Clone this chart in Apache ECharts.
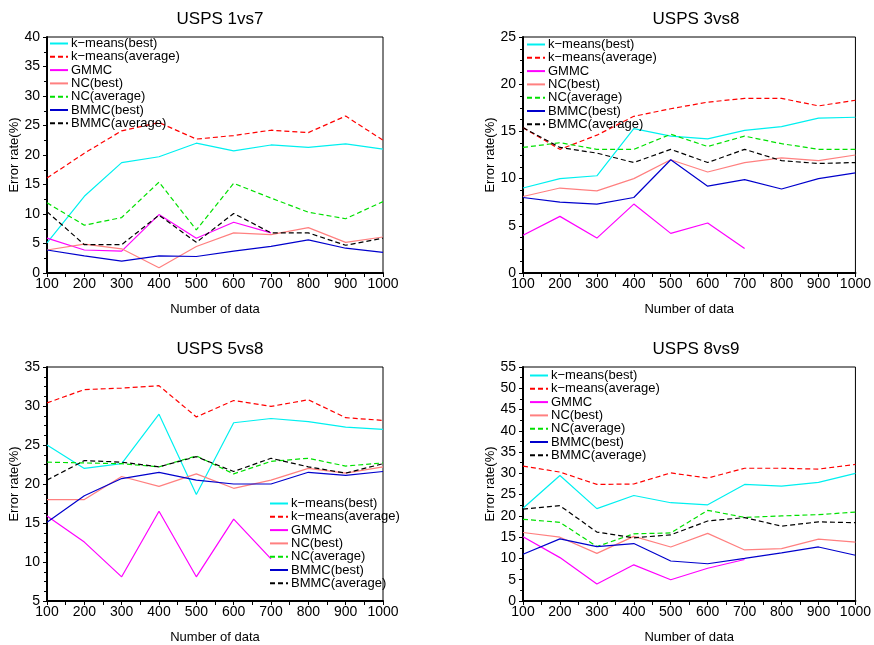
<!DOCTYPE html>
<html>
<head>
<meta charset="utf-8">
<script src="https://cdn.jsdelivr.net/npm/echarts@6/dist/echarts.min.js"></script>
<style>
  html, body { margin: 0; padding: 0; background: #fff; }
  #chart { width: 874px; height: 645px; }
</style>
</head>
<body>
<div id="chart"></div>
<script>
// Number of data points on the x axis
const dataSizes = [100, 200, 300, 400, 500, 600, 700, 800, 900, 1000];

// Panel titles
const panelTitles = ['USPS 1vs7', 'USPS 3vs8', 'USPS 5vs8', 'USPS 8vs9'];

// Method names (legend labels)
const methodNames = ['k\u2212means(best)', 'k\u2212means(average)', 'GMMC', 'NC(best)', 'NC(average)', 'BMMC(best)', 'BMMC(average)'];

// Error rates (%) — USPS 1vs7
const kmeansBest1vs7 = [5.1, 13.0, 18.7, 19.7, 22.0, 20.7, 21.7, 21.3, 21.9, 21.0];
const kmeansAvg1vs7  = [16.1, 20.3, 24.1, 25.5, 22.7, 23.3, 24.2, 23.8, 26.6, 22.5];
const gmmc1vs7       = [5.9, 3.9, 3.7, 9.9, 5.9, 8.6, 6.8];
const ncBest1vs7     = [3.9, 4.9, 4.1, 0.9, 4.5, 6.8, 6.5, 7.7, 5.2, 6.1];
const ncAvg1vs7      = [11.9, 8.1, 9.4, 15.4, 7.3, 15.2, 12.7, 10.3, 9.2, 12.1];
const bmmcBest1vs7   = [3.9, 2.9, 2.0, 2.9, 2.8, 3.7, 4.5, 5.6, 4.2, 3.5];
const bmmcAvg1vs7    = [10.4, 4.8, 4.8, 9.8, 5.2, 10.1, 6.8, 6.8, 4.7, 5.9];

// Error rates (%) — USPS 3vs8
const kmeansBest3vs8 = [9.0, 10.0, 10.3, 15.3, 14.5, 14.2, 15.1, 15.5, 16.4, 16.5];
const kmeansAvg3vs8  = [15.4, 13.1, 14.6, 16.6, 17.4, 18.1, 18.5, 18.5, 17.7, 18.3];
const gmmc3vs8       = [4.0, 6.0, 3.7, 7.3, 4.2, 5.3, 2.6];
const ncBest3vs8     = [8.1, 9.0, 8.7, 10.0, 12.0, 10.7, 11.7, 12.2, 11.9, 12.5];
const ncAvg3vs8      = [13.3, 13.8, 13.1, 13.1, 14.7, 13.4, 14.5, 13.7, 13.1, 13.1];
const bmmcBest3vs8   = [8.0, 7.5, 7.3, 8.0, 12.0, 9.2, 9.9, 8.9, 10.0, 10.6];
const bmmcAvg3vs8    = [15.4, 13.3, 12.7, 11.7, 13.1, 11.7, 13.1, 11.9, 11.6, 11.7];

// Error rates (%) — USPS 5vs8
const kmeansBest5vs8 = [25.0, 22.0, 22.6, 28.95, 18.65, 27.85, 28.4, 28.0, 27.3, 27.0];
const kmeansAvg5vs8  = [30.4, 32.1, 32.3, 32.6, 28.6, 30.7, 29.95, 30.8, 28.5, 28.15];
const gmmc5vs8       = [15.9, 12.55, 8.1, 16.5, 8.1, 15.5, 10.4];
const ncBest5vs8     = [18.0, 18.0, 20.96, 19.7, 21.3, 19.45, 20.5, 22.0, 21.4, 22.2];
const ncAvg5vs8      = [22.8, 22.7, 22.6, 22.2, 23.6, 21.3, 22.9, 23.3, 22.3, 22.7];
const bmmcBest5vs8   = [15.1, 18.5, 20.7, 21.5, 20.5, 20.0, 20.0, 21.5, 21.1, 21.6];
const bmmcAvg5vs8    = [20.5, 23.0, 22.8, 22.2, 23.5, 21.6, 23.3, 22.2, 21.4, 22.6];

// Error rates (%) — USPS 8vs9
const kmeansBest8vs9 = [21.8, 29.5, 21.7, 24.8, 23.1, 22.6, 27.4, 27.0, 27.9, 30.0];
const kmeansAvg8vs9  = [31.7, 30.3, 27.4, 27.5, 30.1, 28.9, 31.2, 31.2, 31.0, 32.1];
const gmmc8vs9       = [15.1, 10.2, 4.0, 8.5, 5.0, 7.7, 9.75];
const ncBest8vs9     = [16.1, 15.0, 11.2, 15.2, 12.7, 15.9, 12.0, 12.3, 14.55, 13.85];
const ncAvg8vs9      = [19.2, 18.5, 12.8, 15.8, 16.0, 21.3, 19.65, 20.0, 20.3, 20.9];
const bmmcBest8vs9   = [11.0, 14.6, 12.8, 13.5, 9.4, 8.75, 10.0, 11.3, 12.7, 10.75];
const bmmcAvg8vs9    = [21.6, 22.4, 16.2, 14.85, 15.55, 18.8, 19.6, 17.6, 18.6, 18.4];

// Y-axis ranges per panel
const yMins = [0, 0, 5, 0];
const yMaxs = [40, 25, 35, 55];

const panelData = [
  [kmeansBest1vs7, kmeansAvg1vs7, gmmc1vs7, ncBest1vs7, ncAvg1vs7, bmmcBest1vs7, bmmcAvg1vs7],
  [kmeansBest3vs8, kmeansAvg3vs8, gmmc3vs8, ncBest3vs8, ncAvg3vs8, bmmcBest3vs8, bmmcAvg3vs8],
  [kmeansBest5vs8, kmeansAvg5vs8, gmmc5vs8, ncBest5vs8, ncAvg5vs8, bmmcBest5vs8, bmmcAvg5vs8],
  [kmeansBest8vs9, kmeansAvg8vs9, gmmc8vs9, ncBest8vs9, ncAvg8vs9, bmmcBest8vs9, bmmcAvg8vs9]
];

// Line styles per method
const methodColors = ['#00f0f0', '#ff0000', '#ff00ff', '#ff8080', '#00e000', '#0000cc', '#000000'];
const methodDashed = [false, true, false, false, true, false, true];

const FONT = '"Liberation Sans", Arial, Helvetica, sans-serif';

// Panel geometry (pixels)
const grids = [
  { left: 47,  top: 37,  width: 336, height: 236 },
  { left: 523, top: 37,  width: 336, height: 236 },
  { left: 47,  top: 367, width: 336, height: 237 },
  { left: 523, top: 367, width: 336, height: 237 }
];
const legendPos = [
  { left: 49,  top: 37 },
  { left: 526, top: 38 },
  { left: 269, top: 497 },
  { left: 529, top: 369 }
];
const yMinorSplits = [2, 4, 4, 2];

const option = {
  animation: false,
  backgroundColor: '#fff',
  textStyle: { fontFamily: FONT },
  title: panelTitles.map((t, i) => ({
    text: t,
    left: grids[i].left + grids[i].width / 2,
    top: grids[i].top - 31,
    textAlign: 'center',
    textStyle: { fontFamily: FONT, fontSize: 17, fontWeight: 'normal', color: '#000' }
  })),
  grid: grids.map(g => Object.assign({ show: true, borderColor: '#000', borderWidth: 1, backgroundColor: 'transparent' }, g)),
  legend: panelData.map((_, i) => ({
    orient: 'vertical',
    left: legendPos[i].left,
    top: legendPos[i].top,
    data: methodNames,
    itemWidth: 18,
    itemHeight: 10,
    itemGap: 0.3,
    padding: 0,
    selectedMode: false,
    // line-only legend keys (no marker dot)
    itemStyle: { color: 'rgba(0,0,0,0)', borderColor: 'rgba(0,0,0,0)', borderWidth: 0, opacity: 0 },
    textStyle: { fontFamily: FONT, fontSize: 13, color: '#000', padding: [0, 0, 0, -2] }
  })),
  xAxis: grids.map((g, i) => ({
    type: 'value',
    gridIndex: i,
    min: 100,
    max: 1000,
    interval: 100,
    name: 'Number of data',
    nameLocation: 'middle',
    nameGap: 30,
    nameTextStyle: { fontFamily: FONT, fontSize: 13, color: '#000' },
    axisLine: { show: true, lineStyle: { color: '#000', width: 2 } },
    axisTick: { show: true, inside: false, length: 4, lineStyle: { color: '#000', width: 1 } },
    minorTick: { show: true, splitNumber: 2, length: 4, lineStyle: { color: '#000', width: 1 } },
    axisLabel: { fontFamily: FONT, fontSize: 14, color: '#000', margin: 4, formatter: v => String(v) },
    splitLine: { show: false },
    minorSplitLine: { show: false }
  })),
  yAxis: grids.map((g, i) => ({
    type: 'value',
    gridIndex: i,
    min: yMins[i],
    max: yMaxs[i],
    interval: 5,
    name: 'Error rate(%)',
    nameLocation: 'middle',
    nameGap: 17,
    nameTextStyle: { fontFamily: FONT, fontSize: 13, color: '#000' },
    axisLine: { show: true, lineStyle: { color: '#000', width: 2 } },
    axisTick: { show: true, inside: false, length: 4, lineStyle: { color: '#000', width: 1 } },
    minorTick: { show: true, splitNumber: yMinorSplits[i], length: 3, lineStyle: { color: '#000', width: 1 } },
    axisLabel: { fontFamily: FONT, fontSize: 14, color: '#000', margin: 7 },
    splitLine: { show: false },
    minorSplitLine: { show: false }
  })),
  series: []
};

panelData.forEach((methods, p) => {
  methods.forEach((values, m) => {
    option.series.push({
      type: 'line',
      name: methodNames[m],
      xAxisIndex: p,
      yAxisIndex: p,
      data: values.map((v, k) => [dataSizes[k], v]),
      symbol: 'none',
      color: methodColors[m],
      lineStyle: { color: methodColors[m], width: 1.2, type: methodDashed[m] ? [5, 3] : 'solid' },
      z: 3
    });
  });
});

const chart = echarts.init(document.getElementById('chart'), null, { renderer: 'canvas' });
chart.setOption(option);
</script>
</body>
</html>
